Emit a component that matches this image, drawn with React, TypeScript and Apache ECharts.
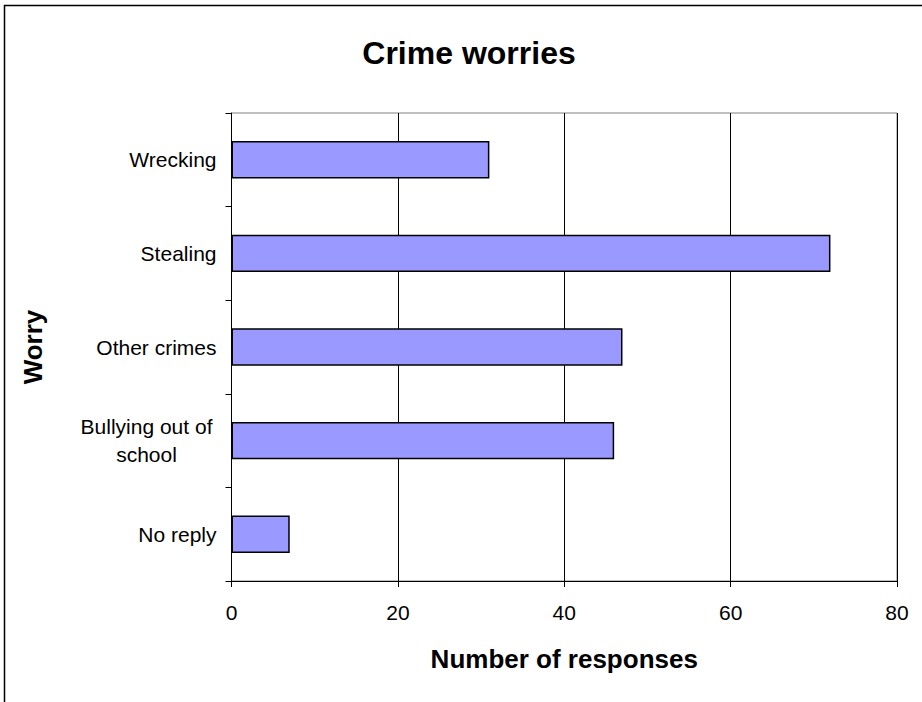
import React, { useEffect, useRef } from "react";
import * as echarts from "echarts";

const categories = ["Wrecking", "Stealing", "Other crimes", "Bullying out of school", "No reply"];
const responses = [31, 72, 47, 46, 7];
const xTicks = [0, 20, 40, 60, 80];
const titleText = "Crime worries";
const xAxisTitle = "Number of responses";
const yAxisTitle = "Worry";

export default function App() {
  const ref = useRef<HTMLDivElement>(null);
  useEffect(() => {
    const chart = echarts.init(ref.current!, null, { renderer: "svg" });
    const font = "Liberation Sans, Arial, sans-serif";
    chart.setOption({
      animation: false,
      backgroundColor: "#ffffff",
      title: {
        text: titleText,
        left: 464,
        top: 32,
        textAlign: "center",
        textStyle: { fontFamily: font, fontWeight: "bold", fontSize: 32, color: "#000" },
      },
      graphic: [
        {
          type: "rect",
          shape: { x: 4.5, y: 5.5, width: 2000, height: 2000 },
          style: { fill: "none", stroke: "#000", lineWidth: 1.5 },
          silent: true,
        },
      ],
      grid: {
        left: 231.5,
        top: 113,
        right: 25,
        bottom: 121,
        show: true,
        borderColor: "#808080",
        borderWidth: 1,
      },
      xAxis: {
        type: "value",
        min: xTicks[0],
        max: xTicks[xTicks.length - 1],
        interval: 20,
        name: xAxisTitle,
        nameLocation: "middle",
        nameGap: 65,
        nameTextStyle: { fontFamily: font, fontWeight: "bold", fontSize: 26, color: "#000" },
        axisLine: { show: true, lineStyle: { color: "#000", width: 1 } },
        axisTick: { show: true, length: 6, inside: false, lineStyle: { color: "#000" } },
        axisLabel: { fontFamily: font, fontSize: 21, color: "#000", margin: 21 },
        splitLine: { show: true, lineStyle: { color: "#000", width: 1 } },
      },
      yAxis: {
        type: "category",
        data: categories,
        inverse: true,
        name: yAxisTitle,
        nameLocation: "middle",
        nameRotate: 90,
        nameGap: 186,
        nameTextStyle: { fontFamily: font, fontWeight: "bold", fontSize: 26, color: "#000" },
        axisLine: { show: true, lineStyle: { color: "#000", width: 1 } },
        axisTick: { show: true, length: 6, lineStyle: { color: "#000" } },
        axisLabel: {
          fontFamily: font,
          fontSize: 21,
          color: "#000",
          margin: 15,
          formatter: (v: string) =>
            v === "Bullying out of school" ? "{b|Bullying out of}\n{b|school}" : v,
          rich: {
            b: { width: 140, align: "center", fontSize: 21, fontFamily: font, color: "#000", lineHeight: 28 },
          },
        },
        splitLine: { show: false },
      },
      series: [
        {
          type: "bar",
          data: responses,
          barCategoryGap: "60%",
          itemStyle: { color: "#9999FF", borderColor: "#000", borderWidth: 1.5 },
        },
      ],
    });
    return () => chart.dispose();
  }, []);
  return (
    <div
      ref={ref}
      style={{ position: "absolute", left: 0, top: 0, width: 922, height: 702 }}
    />
  );
}
